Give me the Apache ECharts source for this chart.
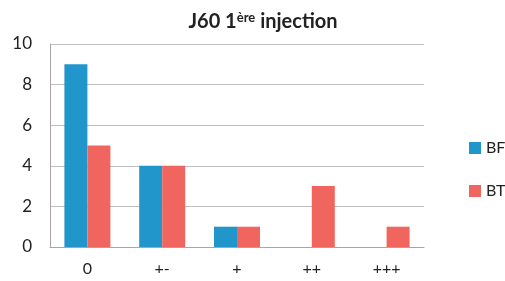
<!DOCTYPE html>
<html>
<head>
<meta charset="utf-8">
<script src="https://cdn.jsdelivr.net/npm/echarts@6/dist/echarts.min.js"></script>
<style>
  html, body { margin: 0; padding: 0; background: #fff; }
  #main { width: 505px; height: 281px; }
</style>
</head>
<body>
<div id="main"></div>
<script>
// chart data
const categories = ["0", "+-", "+", "++", "+++"];
const bfValues = [9, 4, 1, 0, 0];
const btValues = [5, 4, 1, 3, 1];
const yTicks = [0, 2, 4, 6, 8, 10];

const myChart = echarts.init(document.getElementById("main"));

const option = {
  animation: false,
  textStyle: { fontFamily: "Lato" },
  title: {
    text: "J60 1{sup|ère} injection",
    left: 258,
    textAlign: "center",
    top: 6,
    textStyle: {
      fontFamily: "Lato",
      fontWeight: "bold",
      fontSize: 20,
      color: "#222",
      rich: {
        sup: { fontFamily: "Lato", fontWeight: "bold", fontSize: 13, color: "#222", verticalAlign: "top", padding: [0, 0, 9, 0] }
      }
    }
  },
  legend: {
    orient: "vertical",
    left: 464,
    top: 135,
    itemWidth: 12,
    itemHeight: 12,
    itemGap: 27,
    icon: "rect",
    textStyle: { fontFamily: "Lato", fontSize: 16, color: "#222" },
    data: ["BF", "BT"]
  },
  grid: { left: 50, right: 81, top: 44, bottom: 34 },
  xAxis: {
    type: "category",
    data: categories,
    axisLine: { lineStyle: { color: "#a6a6a6", width: 1 } },
    axisTick: { show: false },
    axisLabel: { color: "#222", fontSize: 16, margin: 14, fontFamily: "Lato" }
  },
  yAxis: {
    type: "value",
    min: yTicks[0],
    max: yTicks[yTicks.length - 1],
    interval: 2,
    axisLine: { show: true, lineStyle: { color: "#a6a6a6" } },
    axisTick: { show: false },
    splitLine: { lineStyle: { color: "#bfbfbf" } },
    axisLabel: { color: "#222", fontSize: 17, margin: 18, fontFamily: "Lato" }
  },
  series: [
    {
      name: "BF",
      type: "bar",
      data: bfValues,
      barWidth: 23,
      barGap: "0%",
      itemStyle: { color: "#2196cb" }
    },
    {
      name: "BT",
      type: "bar",
      data: btValues,
      barWidth: 23,
      barGap: "0%",
      itemStyle: { color: "#f0665f" }
    }
  ]
};

option && myChart.setOption(option);
</script>
</body>
</html>
